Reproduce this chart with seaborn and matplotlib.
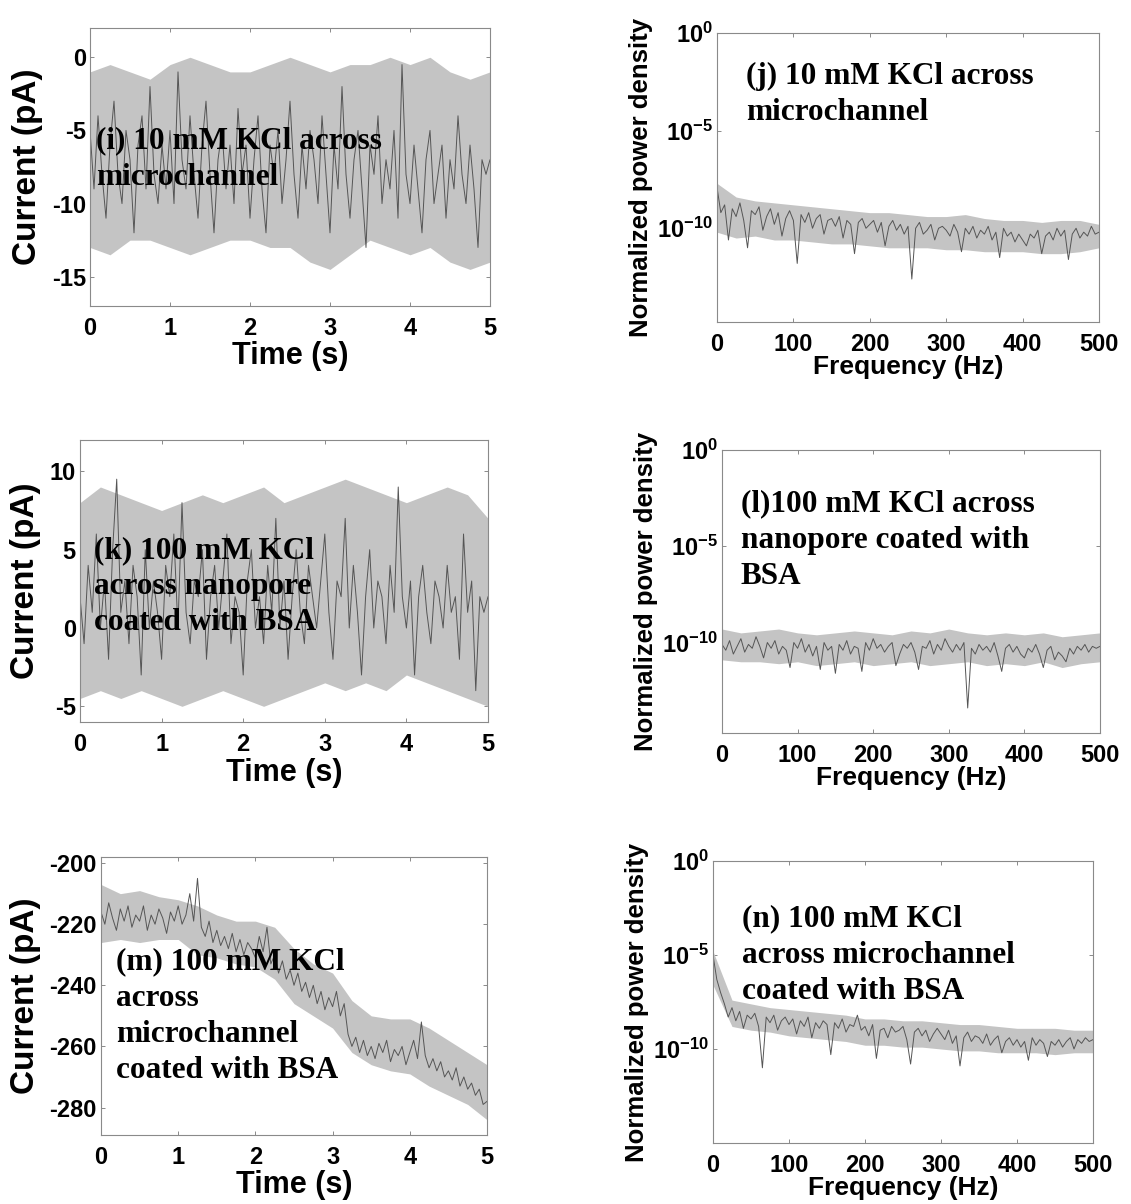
import numpy as np
import pandas as pd
import matplotlib
matplotlib.use("Agg")
import matplotlib.pyplot as plt
import seaborn as sns
from matplotlib.ticker import NullLocator

# ---------------- data ----------------
# time axis samples (s)
t_env = np.arange(0, 5.001, 0.25)
t_trace = np.arange(0, 5.001, 0.05)
# frequency axis samples (Hz)
f_env = np.arange(0, 500.1, 25)
f_trace = np.arange(0, 500.1, 5)

# (i) 10 mM KCl across microchannel, current (pA)
upper_i = [-1.0, -0.5, -1.0, -1.5, -0.5, 0.0, -0.5, -1.0, -1.0, -0.5, 0.0,
           -0.5, -1.0, -0.5, -0.5, 0.0, -0.5, 0.0, -1.0, -1.5, -1.0]
lower_i = [-13.0, -13.5, -12.5, -12.5, -13.0, -13.5, -13.0, -12.5, -12.5, -13.0, -13.0,
           -14.0, -14.5, -13.5, -12.5, -13.0, -13.5, -13.0, -14.0, -14.5, -14.0]
trace_i = [-5, -9, -4, -8, -11, -6, -3, -8, -10, -5,
           -7, -12, -6, -4, -9, -2, -8, -10, -6, -9,
           -5, -10, -1, -7, -9, -4, -8, -11, -6, -3,
           -8, -12, -7, -5, -9, -6, -10, -3.5, -8, -6,
           -11, -7, -4, -9, -12, -6, -8, -5, -10, -7,
           -3, -8, -11, -6, -9, -5, -7, -10, -4, -8,
           -12, -6, -9, -2, -8, -11, -7, -5, -9, -13,
           -6, -8, -4, -10, -7, -9, -5, -11, -0.5, -8,
           -10, -6, -9, -12, -7, -5, -10, -8, -6, -11,
           -7, -9, -4, -8, -10, -6, -9, -13, -7, -8,
           -7]

# (k) 100 mM KCl across nanopore coated with BSA, current (pA)
upper_k = [8.0, 9.0, 8.5, 8.0, 7.5, 8.0, 8.5, 8.0, 8.5, 9.0, 8.0,
           8.5, 9.0, 9.5, 9.0, 8.5, 8.0, 8.5, 9.0, 8.5, 7.0]
lower_k = [-4.5, -4.0, -4.5, -4.0, -4.5, -5.0, -4.5, -4.0, -4.5, -5.0, -4.5,
           -4.0, -3.5, -4.0, -3.5, -4.0, -3.0, -3.5, -4.0, -4.5, -5.0]
trace_k = [2, -1, 4, 1, 6, 0, 3, -2, 5, 9.5,
           1, 3, -1, 4, 2, -3, 5, 0, 3, 1,
           -2, 4, 2, 6, 0, 8, 1, -1, 3, 2,
           5, -2, 2, 4, 0, 3, 6, -1, 2, 1,
           -3, 3, 5, 0, 2, -1, 4, 1, 7, 0,
           3, -2, 2, 5, 1, -1, 4, 2, 0, 3,
           6, 1, -2, 3, 2, 7, 0, 4, 1, -3,
           2, 5, 0, 3, 2, -1, 4, 1, 9, 2,
           0, 3, -3, 2, 4, 1, -1, 3, 2, 0,
           4, 1, 2, -2, 6, 1, 3, -4, 2, 1,
           2]

# (m) 100 mM KCl across microchannel coated with BSA, current (pA)
upper_m = [-207, -210, -209, -211, -212, -214, -217, -219, -219, -221, -228,
           -233, -236, -245, -250, -251, -251, -254, -258, -262, -266]
lower_m = [-226, -225, -226, -225, -225, -230, -231, -233, -234, -238, -246,
           -250, -254, -262, -266, -268, -269, -273, -276, -279, -284]
trace_m = [-216, -220, -213, -218, -222, -215, -219, -214, -221, -217,
           -219, -214, -222, -217, -220, -215, -218, -223, -216, -219,
           -214, -220, -217, -210, -219, -205, -221, -224, -219, -226,
           -222, -227, -224, -228, -223, -229, -225, -230, -226, -228,
           -231, -224, -229, -221, -233, -230, -236, -232, -238, -235,
           -240, -236, -242, -239, -244, -240, -246, -242, -248, -244,
           -247, -242, -250, -246, -256, -260, -257, -262, -258, -263,
           -260, -264, -259, -262, -258, -265, -261, -263, -260, -266,
           -262, -258, -264, -252, -263, -267, -264, -268, -265, -270,
           -268, -271, -267, -273, -270, -274, -272, -276, -274, -279,
           -278]

# (j) spectrum, log10 of normalized power density
upper_j = [-7.7, -8.4, -8.6, -8.7, -8.8, -8.9, -9.0, -9.1, -9.2, -9.2, -9.3,
           -9.4, -9.4, -9.3, -9.5, -9.6, -9.6, -9.7, -9.6, -9.6, -9.8]
lower_j = [-10.2, -10.5, -10.4, -10.6, -10.6, -10.7, -10.8, -10.8, -10.9, -11.0, -11.0,
           -11.0, -11.1, -11.1, -11.2, -11.2, -11.2, -11.3, -11.3, -11.2, -11.0]
trace_j = [-7.9, -9.2, -8.8, -10.6, -9.0, -9.4, -8.7, -9.6, -11.0, -9.1,
           -9.3, -8.9, -10.1, -9.4, -9.0, -9.8, -9.2, -10.4, -9.5, -9.1,
           -9.6, -11.8, -9.3, -9.7, -9.2, -10.0, -9.5, -9.3, -10.3, -9.6,
           -9.5, -9.9, -9.4, -10.5, -9.6, -9.8, -11.3, -9.7, -9.5, -10.0,
           -9.8, -9.6, -10.2, -9.7, -10.9, -9.9, -9.6, -10.1, -9.8, -10.3,
           -9.9, -12.6, -10.0, -9.7, -10.3, -10.1, -9.8, -10.6, -10.0, -9.9,
           -10.1, -10.4, -9.8, -10.2, -11.2, -10.0, -10.3, -9.9, -10.5, -10.1,
           -10.3, -9.9, -10.6, -10.2, -11.5, -10.0, -10.4, -10.2, -10.7, -10.3,
           -10.6, -10.9, -10.3, -10.5, -10.1, -11.3, -10.4, -10.2, -10.6, -10.0,
           -10.4, -10.1, -11.6, -10.3, -10.0, -10.5, -10.2, -10.4, -9.9, -10.3,
           -10.2]

# (l) spectrum
upper_l = [-9.3, -9.5, -9.4, -9.3, -9.5, -9.6, -9.5, -9.4, -9.5, -9.6, -9.4,
           -9.5, -9.3, -9.5, -9.6, -9.5, -9.6, -9.5, -9.7, -9.6, -9.5]
lower_l = [-10.9, -11.0, -11.0, -11.1, -11.0, -11.2, -11.1, -11.0, -11.2, -11.1, -11.0,
           -11.2, -11.1, -11.0, -11.2, -11.1, -11.2, -11.0, -11.3, -11.1, -11.0]
trace_l = [-10.1, -10.4, -9.9, -10.6, -10.2, -9.8, -10.5, -10.1, -10.3, -9.7,
           -10.2, -10.8, -10.0, -10.3, -9.9, -10.6, -10.2, -10.4, -11.3, -10.0,
           -10.3, -9.8, -10.5, -10.1, -10.7, -10.2, -11.4, -10.0, -10.4, -10.2,
           -11.6, -10.1, -10.4, -9.9, -10.6, -10.2, -10.3, -11.5, -10.0, -10.4,
           -9.8, -10.3, -10.1, -10.5, -10.2, -10.0, -11.2, -10.6, -10.1, -10.3,
           -10.0, -10.5, -11.4, -10.2, -10.3, -9.9, -10.6, -10.1, -10.4, -9.8,
           -10.2, -10.5, -10.1, -10.4, -10.0, -13.4, -10.3, -10.6, -10.1, -10.4,
           -10.2, -10.5, -10.0, -10.7, -11.5, -10.3, -10.1, -10.5, -10.2, -10.6,
           -10.8, -10.3, -10.5, -10.1, -10.6, -11.3, -10.4, -10.2, -10.9, -10.5,
           -10.7, -11.0, -10.3, -10.6, -10.2, -10.4, -10.1, -10.5, -10.2, -10.3,
           -10.2]

# (n) spectrum
upper_n = [-4.8, -7.4, -7.6, -7.8, -7.9, -8.0, -8.1, -8.2, -8.4, -8.4, -8.5,
           -8.5, -8.6, -8.7, -8.7, -8.8, -8.9, -8.9, -8.9, -9.0, -9.0]
lower_n = [-6.6, -8.8, -9.0, -9.1, -9.3, -9.4, -9.5, -9.6, -9.8, -9.8, -9.9,
           -9.9, -10.0, -10.1, -10.1, -10.2, -10.2, -10.2, -10.3, -10.2, -10.2]
trace_n = [-5.0, -6.3, -7.0, -7.6, -8.3, -7.8, -8.5, -8.0, -8.9, -8.2,
           -8.4, -8.1, -8.8, -11.0, -8.3, -8.6, -8.2, -9.0, -8.5, -8.3,
           -8.7, -8.4, -9.2, -8.5, -8.8, -8.3, -9.4, -8.6, -8.9, -8.5,
           -8.7, -10.3, -8.6, -8.9, -8.4, -9.1, -8.7, -8.8, -8.2, -9.0,
           -8.8, -9.3, -8.7, -10.5, -9.0, -8.9, -9.4, -8.8, -9.1, -9.0,
           -8.8, -9.5, -10.8, -9.1, -8.9, -9.3, -9.0, -9.6, -9.2, -8.9,
           -9.2, -9.5, -9.0, -9.7, -9.3, -10.9, -9.4, -9.1, -9.6, -9.3,
           -9.4, -9.7, -9.2, -9.8, -9.5, -9.3, -10.2, -9.6, -9.4, -9.8,
           -9.5, -9.9, -9.6, -10.6, -9.4, -9.8, -9.5, -9.7, -10.4, -9.6,
           -9.8, -9.5, -9.9, -9.6, -9.4, -10.0, -9.5, -9.7, -9.4, -9.6,
           -9.5]

labels = {
    "i": "(i) 10 mM KCl across\nmicrochannel",
    "j": "(j) 10 mM KCl across\nmicrochannel",
    "k": "(k) 100 mM KCl\nacross nanopore\ncoated with BSA",
    "l": "(l)100 mM KCl across\nnanopore coated with\nBSA",
    "m": "(m) 100 mM KCl\nacross\nmicrochannel\ncoated with BSA",
    "n": "(n) 100 mM KCl\nacross microchannel\ncoated with BSA",
}
time_ticks = [0, 1, 2, 3, 4, 5]
freq_ticks = [0, 100, 200, 300, 400, 500]
log_ticks = [1e0, 1e-5, 1e-10]
log_ticklabels = [r"$10^{0}$", r"$10^{-5}$", r"$10^{-10}$"]

# ---------------- style ----------------
sns.set_theme(style="white")
plt.rcParams["font.family"] = ["Liberation Sans", "DejaVu Sans"]
plt.rcParams["font.weight"] = "bold"
plt.rcParams["text.color"] = "black"
plt.rcParams["axes.labelcolor"] = "black"
plt.rcParams["xtick.labelcolor"] = "black"
plt.rcParams["ytick.labelcolor"] = "black"
plt.rcParams["axes.unicode_minus"] = False
plt.rcParams["mathtext.fontset"] = "custom"
plt.rcParams["mathtext.rm"] = "Liberation Sans:bold"
plt.rcParams["mathtext.bf"] = "Liberation Sans:bold"
plt.rcParams["mathtext.it"] = "Liberation Sans:bold"
plt.rcParams["mathtext.default"] = "rm"

W, H = 1131, 1204
fig = plt.figure(figsize=(W / 100, H / 100), dpi=100)
fig.patch.set_facecolor("white")


def add_ax(box):
    l, t, r, b = box
    return fig.add_axes([l / W, 1 - b / H, (r - l) / W, (b - t) / H])


def style_ax(ax, tsize):
    for s in ax.spines.values():
        s.set_visible(True)
        s.set_color("#8a8a8a")
        s.set_linewidth(0.8)
    ax.tick_params(direction="in", length=3, width=0.7, colors="#8a8a8a",
                   top=True, right=True, bottom=True, left=True,
                   labelcolor="black", labelsize=tsize)
    ax.tick_params(axis="x", pad=8)
    ax.tick_params(axis="y", pad=3)
    ax.grid(False)
    ax.set_facecolor("white")


FILL = "#c4c4c4"
CORE = "#555555"
SERIF = ["Liberation Serif", "DejaVu Serif"]
LSP = 1.33


def time_panel(box, up, lo, tr, ylim, yticks, key, txy):
    ax = add_ax(box)
    ax.fill_between(t_env, lo, up, color=FILL, lw=0, zorder=1)
    df = pd.DataFrame({"t": t_trace, "I": tr})
    sns.lineplot(data=df, x="t", y="I", ax=ax, color=CORE, lw=0.7, zorder=2,
                 estimator=None, sort=False)
    ax.set_xlim(0, 5)
    ax.set_ylim(*ylim)
    ax.set_xticks(time_ticks)
    ax.set_yticks(yticks)
    style_ax(ax, 17)
    ax.set_xlabel("Time (s)", fontsize=22, fontweight="bold", labelpad=1, color="black")
    ax.set_ylabel("Current (pA)", fontsize=24, fontweight="bold", labelpad=6, color="black")
    ax.text(txy[0], txy[1], labels[key], transform=ax.transAxes,
            family=SERIF, fontweight="bold", color="black",
            fontsize=22.5, va="top", ha="left", linespacing=LSP, zorder=5)
    return ax


def spec_panel(box, up, lo, tr, ylow, key, txy):
    ax = add_ax(box)
    ax.fill_between(f_env, 10.0 ** np.array(lo), 10.0 ** np.array(up),
                    color=FILL, lw=0, zorder=1)
    df = pd.DataFrame({"f": f_trace, "P": 10.0 ** np.array(tr)})
    sns.lineplot(data=df, x="f", y="P", ax=ax, color=CORE, lw=0.7, zorder=2,
                 estimator=None, sort=False)
    ax.set_yscale("log")
    ax.set_xlim(0, 500)
    ax.set_ylim(10.0 ** ylow, 1.0)
    ax.set_xticks(freq_ticks)
    ax.set_yticks(log_ticks)
    ax.set_yticklabels(log_ticklabels)
    ax.yaxis.set_minor_locator(NullLocator())
    style_ax(ax, 17)
    ax.set_xlabel("Frequency (Hz)", fontsize=19, fontweight="bold", labelpad=-1, color="black")
    ax.set_ylabel("Normalized power density", fontsize=18.5, fontweight="bold",
                  labelpad=3, color="black")
    ax.text(txy[0], txy[1], labels[key], transform=ax.transAxes,
            family=SERIF, fontweight="bold", color="black",
            fontsize=22.5, va="top", ha="left", linespacing=LSP, zorder=5)
    return ax


time_panel((90, 28, 490, 306), upper_i, lower_i, trace_i, (-17, 2),
           [-15, -10, -5, 0], "i", (0.015, 0.645))
spec_panel((717, 33, 1099, 322), upper_j, lower_j, trace_j, -14.8, "j", (0.075, 0.9))
time_panel((80, 440, 488, 722), upper_k, lower_k, trace_k, (-6, 12),
           [-5, 0, 5, 10], "k", (0.035, 0.66))
spec_panel((722, 450, 1100, 733), upper_l, lower_l, trace_l, -14.7, "l", (0.05, 0.86))
time_panel((101, 857, 487, 1135), upper_m, lower_m, trace_m, (-289, -198),
           [-280, -260, -240, -220, -200], "m", (0.04, 0.675))
spec_panel((713, 861, 1093, 1143), upper_n, lower_n, trace_n, -15.0, "n", (0.075, 0.845))

fig.savefig("out.png", dpi=100, facecolor="white")
